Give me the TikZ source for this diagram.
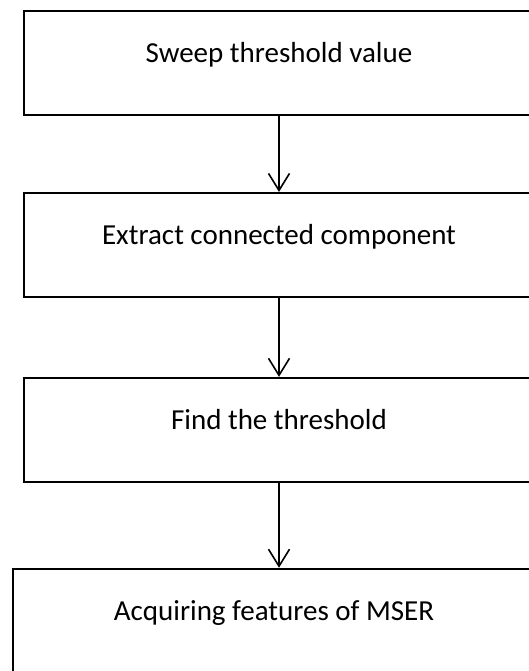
\documentclass[tikz,border=0pt]{standalone}
\usepackage{fontspec}
\setmainfont{Carlito}
\usetikzlibrary{positioning,arrows.meta}

\begin{document}
\begin{tikzpicture}
 [stage box/.style={rectangle, draw, line width=1.9pt, minimum width=510pt, minimum height=104pt,
    text height=10pt, text depth=10pt, font=\fontsize{29}{34}\selectfont},
  flow arrow/.style={-{Straight Barb[length=17pt,width=21pt]}, line width=1.6pt}]

 \useasboundingbox (0,0) rectangle (529pt,-671pt);

 \node[stage box] (sweep) at (279pt,-63pt) {Sweep threshold value};
 \node[stage box] (extract) [below=76pt of sweep] {Extract connected component};
 \node[stage box] (find) [below=79pt of extract] {Find the threshold};
 \node[stage box, minimum width=522pt] (acquire) [below=85pt of find, xshift=-5pt] {Acquiring features of MSER};

 \draw[flow arrow] (sweep) -- (extract);
 \draw[flow arrow] (extract) -- (find);
 \draw[flow arrow] (find) -- (find.south |- acquire.north);

\end{tikzpicture}
\end{document}
